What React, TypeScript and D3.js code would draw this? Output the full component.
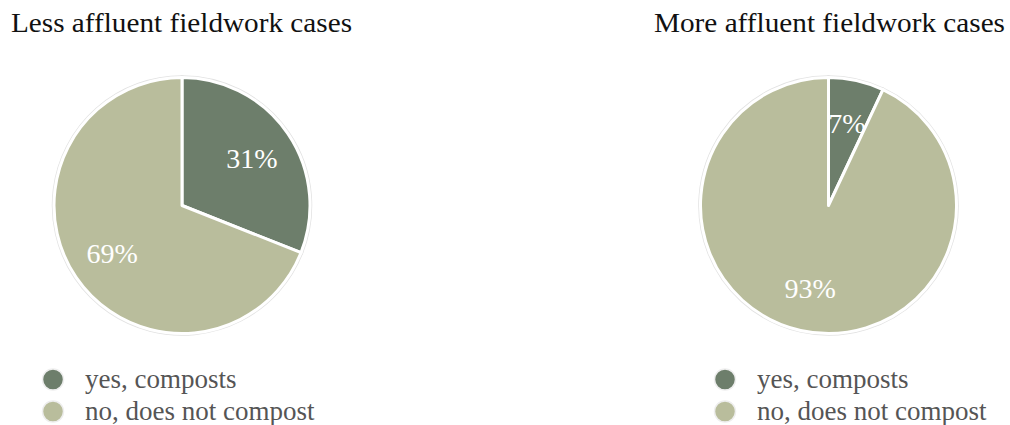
import React from "react";
import * as d3 from "d3";

const categories = ["yes, composts", "no, does not compost"];
const colors = ["#6d7e6b", "#b9bd9c"];
const panelTitles = ["Less affluent fieldwork cases", "More affluent fieldwork cases"];
const lessAffluent = [31, 69];
const moreAffluent = [7, 93];

const W = 1010;
const H = 425;
const R = 128;
const SERIF = "'Liberation Serif', 'DejaVu Serif', serif";

type PanelProps = {
  title: string;
  values: number[];
  cx: number;
  titleAnchor: "start" | "end";
  titleX: number;
  titleWidth: number;
  legendX: number;
};

function Panel({ title, values, cx, titleAnchor, titleX, titleWidth, legendX }: PanelProps) {
  const cy = 205.5;
  const pie = d3.pie<number>().sort(null).value((d) => d);
  const arcs = pie(values);
  const arc = d3.arc<d3.PieArcDatum<number>>().innerRadius(0).outerRadius(R);
  const labelArc = d3.arc<d3.PieArcDatum<number>>().innerRadius(R * 0.66).outerRadius(R * 0.66);
  const legendY = d3.scalePoint<string>().domain(categories).range([379.5, 411.5]);

  return (
    <g>
      <text
        x={titleX}
        y={32}
        textAnchor={titleAnchor}
        fontFamily={SERIF}
        fontSize={28}
        fill="#111"
        textLength={titleWidth}
        lengthAdjust="spacingAndGlyphs"
      >
        {title}
      </text>
      <g transform={`translate(${cx},${cy})`}>
        {arcs.map((a, i) => (
          <path key={`o${i}`} d={arc(a) || ""} fill={colors[i]} stroke="#e2e2e2" strokeWidth={4.5} strokeLinejoin="round" />
        ))}
        {arcs.map((a, i) => (
          <path key={`w${i}`} d={arc(a) || ""} fill={colors[i]} stroke="#ffffff" strokeWidth={3} strokeLinejoin="round" />
        ))}
        {arcs.map((a, i) => {
          const [x, y] = labelArc.centroid(a);
          return (
            <text key={`l${i}`} x={x} y={y} dy="0.35em" textAnchor="middle" fontFamily={SERIF} fontSize={28} fill="#ffffff">
              {`${values[i]}%`}
            </text>
          );
        })}
      </g>
      {categories.map((c, i) => (
        <g key={c} transform={`translate(${legendX},${legendY(c)})`}>
          <circle r={10.5} fill={colors[i]} stroke="#eeeeee" strokeWidth={1.5} />
          <text x={32} y={0} dy="0.32em" fontFamily={SERIF} fontSize={27} fill="#555">
            {c}
          </text>
        </g>
      ))}
    </g>
  );
}

export default function App() {
  return (
    <svg width={W} height={H} style={{ position: "absolute", left: 0, top: 0, background: "#fff" }}>
      <Panel title={panelTitles[0]} values={lessAffluent} cx={182} titleAnchor="start" titleX={11} titleWidth={341} legendX={53} />
      <Panel title={panelTitles[1]} values={moreAffluent} cx={828.5} titleAnchor="end" titleX={1005} titleWidth={351} legendX={725} />
    </svg>
  );
}
